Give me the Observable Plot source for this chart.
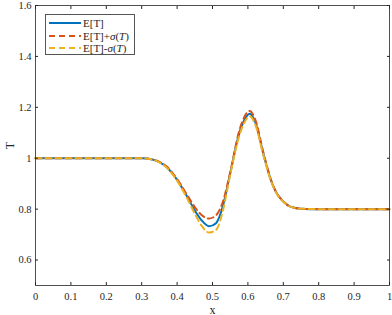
<!DOCTYPE html>
<html>
<head>
<meta charset="utf-8">
<script src="https://cdn.jsdelivr.net/npm/d3@7"></script>
<script src="https://cdn.jsdelivr.net/npm/@observablehq/plot@0.6"></script>
<style>
  html, body { margin: 0; padding: 0; background: #fff; }
  #wrap { position: relative; width: 392px; height: 315px; font-family: "Liberation Serif", "DejaVu Serif", serif; }
  #legend { position: absolute; left: 45px; top: 14px; width: 90px; height: 41px; border: 1px solid #555; background: #fff; box-sizing: border-box; font-size: 11px; color: #262626; }
  #legend .row { position: absolute; left: 3px; height: 12px; display: flex; align-items: center; }
  #legend svg { display: block; margin-right: 2px; }
  i { font-style: italic; }
  svg text { font-family: "Liberation Serif", "DejaVu Serif", serif; }
</style>
</head>
<body>
<div id="wrap">
  <div id="chart"></div>
  <div id="legend"></div>
</div>
<script>
const xs    = [0, 0.1, 0.2, 0.3, 0.33, 0.35, 0.37, 0.40, 0.43, 0.45, 0.47, 0.49, 0.51, 0.53, 0.55, 0.575, 0.59, 0.605, 0.62, 0.645, 0.665, 0.68, 0.70, 0.72, 0.75, 0.8, 0.9, 1];
const mean  = [1, 1, 1, 1, 0.995, 0.985, 0.966, 0.915, 0.845, 0.795, 0.755, 0.733, 0.745, 0.815, 0.94, 1.095, 1.15, 1.175, 1.145, 1.01, 0.914, 0.865, 0.83, 0.81, 0.802, 0.8, 0.8, 0.8];
const upper = [1, 1, 1, 1, 0.995, 0.986, 0.968, 0.918, 0.852, 0.808, 0.776, 0.763, 0.776, 0.832, 0.945, 1.105, 1.162, 1.186, 1.155, 1.015, 0.916, 0.866, 0.831, 0.81, 0.802, 0.8, 0.8, 0.8];
const lower = [1, 1, 1, 1, 0.995, 0.984, 0.964, 0.912, 0.838, 0.782, 0.733, 0.708, 0.718, 0.798, 0.935, 1.085, 1.14, 1.165, 1.135, 1.005, 0.912, 0.864, 0.829, 0.81, 0.802, 0.8, 0.8, 0.8];
const seriesNames = ["E[T]", "E[T]+σ(T)", "E[T]-σ(T)"];
const seriesColors = ["#0072BD", "#D95319", "#EDB120"];
const xTicks = [0, 0.1, 0.2, 0.3, 0.4, 0.5, 0.6, 0.7, 0.8, 0.9, 1];
const yTicks = [0.6, 0.8, 1, 1.2, 1.4, 1.6];

const rows = [];
[mean, upper, lower].forEach((arr, s) => arr.forEach((v, i) => rows.push({x: xs[i], y: v, s})));

const axisColor = "#262626";
const chart = Plot.plot({
  width: 392,
  height: 315,
  marginLeft: 35,
  marginRight: 3,
  marginTop: 5,
  marginBottom: 30,
  style: {fontFamily: "'Liberation Serif', 'DejaVu Serif', serif", fontSize: "10.5px", color: axisColor, background: "#fff"},
  x: {domain: [0, 1]},
  y: {domain: [0.5, 1.6]},
  marks: [
    Plot.line(rows.filter(d => d.s === 0), {x: "x", y: "y", stroke: seriesColors[0], strokeWidth: 2, curve: "monotone-x"}),
    Plot.line(rows.filter(d => d.s === 1), {x: "x", y: "y", stroke: seriesColors[1], strokeWidth: 2, strokeDasharray: "6,4", curve: "monotone-x"}),
    Plot.line(rows.filter(d => d.s === 2), {x: "x", y: "y", stroke: seriesColors[2], strokeWidth: 2, strokeDasharray: "6,4", curve: "monotone-x"}),
    Plot.frame({stroke: axisColor, strokeWidth: 0.8}),
    Plot.axisX(xTicks, {anchor: "bottom", tickSize: -3, tickPadding: 10, tickFormat: d => String(d), label: null, fontSize: 10.5, stroke: axisColor}),
    Plot.axisX({anchor: "bottom", ticks: [], label: "x", labelAnchor: "center", labelArrow: "none", labelOffset: 28, fontSize: 12}),
    Plot.axisX(xTicks, {anchor: "top", tickSize: -3, tickFormat: null, text: null, label: null, stroke: axisColor}),
    Plot.axisY(yTicks, {anchor: "left", tickSize: -3, tickPadding: 7, tickFormat: d => String(d), label: null, fontSize: 10.5, stroke: axisColor}),
    Plot.axisY({anchor: "left", ticks: [], label: "T", labelAnchor: "center", labelArrow: "none", labelOffset: 30, fontSize: 12}),
    Plot.axisY(yTicks, {anchor: "right", tickSize: -3, tickFormat: null, text: null, label: null, stroke: axisColor})
  ]
});
document.getElementById("chart").appendChild(chart);

const legend = document.getElementById("legend");
const labelsHtml = ["E[T]", "E[T]+<i>σ</i>(<i>T</i>)", "E[T]-<i>σ</i>(<i>T</i>)"];
seriesNames.forEach((name, i) => {
  const row = document.createElement("div");
  row.className = "row";
  row.style.top = (2 + i * 12.5) + "px";
  const dash = i === 0 ? "" : `stroke-dasharray="6,4"`;
  row.innerHTML = `<svg width="32" height="6"><line x1="0" y1="3" x2="32" y2="3" stroke="${seriesColors[i]}" stroke-width="2" ${dash}/></svg><span>${labelsHtml[i]}</span>`;
  legend.appendChild(row);
});
</script>
</body>
</html>
